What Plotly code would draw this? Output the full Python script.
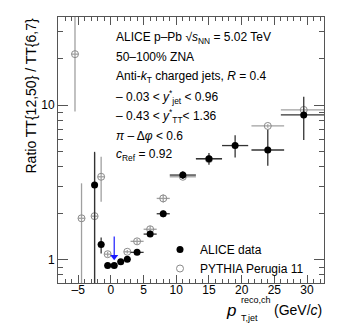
import numpy as np
import plotly.graph_objects as go

# ALICE data (filled markers)
alice_x = [-2.5, -1.5, -0.5, 0.5, 1.5, 2.5, 4, 6, 8, 11, 15, 19, 24, 29.5]
alice_y = [3.05, 1.26, 0.92, 0.92, 0.975, 1.01, 1.12, 1.47, 1.99, 3.54, 4.52, 5.49, 5.14, 8.66]
alice_xerr = [0.5, 0.5, 0.5, 0.5, 0.5, 0.5, 1, 1, 1, 2, 2, 2, 2.5, 3.5]
alice_yerr_up = [1.95, 0.14, 0.02, 0.02, 0.02, 0.03, 0.03, 0.06, 0.1, 0.2, 0.4, 0.9, 1.8, 2.7]
alice_yerr_dn = [2.5, 0.16, 0.02, 0.02, 0.02, 0.03, 0.03, 0.06, 0.1, 0.2, 0.4, 0.9, 1.07, 2.7]

# PYTHIA Perugia 11 (open markers)
pythia_x = [-5.5, -4.5, -2.5, -1.5, -0.5, 2.5, 4, 6, 8, 11, 15, 24, 29.5]
pythia_y = [21.4, 1.86, 1.92, 3.45, 1.09, 1.13, 1.32, 1.58, 2.50, 3.45, 4.48, 7.35, 9.33]
pythia_xerr = [0.5, 0.5, 0.5, 0.5, 0.5, 0.5, 1, 1, 1, 2, 2, 2.5, 3.5]
pythia_yerr_up = [30, 1.27, 3.0, 1.2, 0.04, 0.03, 0.05, 0.08, 0.15, 0.1, 0.15, 0.2, 0.3]
pythia_yerr_dn = [12.3, 1.5, 1.5, 1.07, 0.04, 0.03, 0.05, 0.08, 0.15, 0.1, 0.15, 0.2, 0.3]

# upper-limit arrow
limit_x = [0.5, 0.5]
limit_y = [1.42, 1.05]

x_range = [-8.1, 32.6]
y_range = [0.71, 37.2]
y_major = [1, 10]
y_minor = [0.8, 0.9, 2, 3, 4, 5, 6, 7, 8, 9, 20, 30]

info_lines = [
    "ALICE p–Pb √<i>s</i><sub>NN</sub> = 5.02 TeV",
    "50–100% ZNA",
    "Anti-<i>k</i><sub>T</sub> charged jets, <i>R</i> = 0.4",
    "– 0.03 < <i>y</i><sup>*</sup><sub>jet</sub> < 0.96",
    "– 0.43 < <i>y</i><sup>*</sup><sub>TT</sub>< 1.36",
    "<i>π</i> – Δ<i>φ</i> < 0.6",
    "<i>c</i><sub>Ref</sub> = 0.92",
]

FONT = "Liberation Sans, Arial, sans-serif"
W, H = 341, 326
L, R, T, B = 58, 17, 17, 43
pw, ph = W - L - R, H - T - B

fig = go.Figure()

fig.add_trace(
    go.Scatter(
        x=pythia_x,
        y=pythia_y,
        mode="markers",
        name="PYTHIA Perugia 11",
        marker=dict(symbol="circle-open", size=7, color="#8a8a8a", line=dict(width=1)),
        error_x=dict(type="data", array=pythia_xerr, width=0, color="#a0a0a0", thickness=1.3),
        error_y=dict(
            type="data", symmetric=False, array=pythia_yerr_up, arrayminus=pythia_yerr_dn,
            width=0, color="#a0a0a0", thickness=1.3,
        ),
    )
)
fig.add_trace(
    go.Scatter(
        x=alice_x,
        y=alice_y,
        mode="markers",
        name="ALICE data",
        marker=dict(symbol="circle", size=7, color="black"),
        error_x=dict(type="data", array=alice_xerr, width=0, color="#333333", thickness=1.3),
        error_y=dict(
            type="data", symmetric=False, array=alice_yerr_up, arrayminus=alice_yerr_dn,
            width=0, color="#333333", thickness=1.3,
        ),
    )
)
# arrow shaft and head
fig.add_trace(
    go.Scatter(
        x=limit_x, y=limit_y, mode="lines", showlegend=False,
        line=dict(color="#1a1aff", width=1.2),
    )
)
fig.add_trace(
    go.Scatter(
        x=limit_x[1:], y=limit_y[1:], mode="markers", showlegend=False,
        marker=dict(symbol="triangle-down", size=7, color="#1a1aff"),
    )
)

# text block
for i, line in enumerate(info_lines):
    ypix = 38 + i * 19.5
    fig.add_annotation(
        x=(114 - L) / pw, y=1 - (ypix - T) / ph, xref="paper", yref="paper",
        text=line, showarrow=False, xanchor="left", yanchor="middle",
        font=dict(family=FONT, size=12, color="black"),
    )

# y axis title (ROOT style, top aligned)
fig.add_annotation(
    x=(30 - L) / pw, y=1, xref="paper", yref="paper",
    text="Ratio TT{12,50} / TT{6,7}", textangle=-90, showarrow=False,
    xanchor="center", yanchor="top", font=dict(family=FONT, size=14, color="black"),
)

# x axis title (right aligned)
xt_y = 1 - (310 - T) / ph
fig.add_annotation(
    x=1, y=xt_y, xref="paper", yref="paper", text="(GeV/<i>c</i>)", showarrow=False,
    xanchor="right", yanchor="middle", font=dict(family=FONT, size=14, color="black"),
)
fig.add_annotation(
    x=(238 - L) / pw, y=xt_y, xref="paper", yref="paper", text="<i>p</i>", showarrow=False,
    xanchor="right", yanchor="middle", font=dict(family=FONT, size=17, color="black"),
)
fig.add_annotation(
    x=(239 - L) / pw, y=1 - (300 - T) / ph, xref="paper", yref="paper", text="reco,ch",
    showarrow=False, xanchor="left", yanchor="middle", font=dict(family=FONT, size=9, color="black"),
)
fig.add_annotation(
    x=(239 - L) / pw, y=1 - (318 - T) / ph, xref="paper", yref="paper", text="T,jet",
    showarrow=False, xanchor="left", yanchor="middle", font=dict(family=FONT, size=9, color="black"),
)

fig.update_layout(
    width=W,
    height=H,
    margin=dict(l=L, r=R, t=T, b=B, pad=0),
    paper_bgcolor="white",
    plot_bgcolor="white",
    font=dict(family=FONT, size=12, color="black"),
    showlegend=True,
    legend=dict(
        x=(160 - L) / pw, y=1 - (235 - T) / ph, xanchor="left", yanchor="top",
        traceorder="reversed", bgcolor="rgba(0,0,0,0)", itemwidth=30,
        font=dict(family=FONT, size=12), tracegroupgap=0,
    ),
    xaxis=dict(
        range=x_range, showgrid=False, zeroline=False,
        showline=True, linecolor="#555555", linewidth=1, mirror="allticks",
        ticks="inside", ticklen=8, tickcolor="#555555", tickvals=[-5, 0, 5, 10, 15, 20, 25, 30],
        ticktext=["–5", "0", "5", "10", "15", "20", "25", "30"],
        minor=dict(ticks="inside", ticklen=4, dtick=1, tick0=0, tickcolor="#555555"),
        tickfont=dict(size=12), ticklabelstandoff=-4,
    ),
    yaxis=dict(
        type="log", range=list(np.log10(y_range)), showgrid=False, zeroline=False,
        showline=True, linecolor="#555555", linewidth=1, mirror="allticks",
        ticks="inside", ticklen=10, tickcolor="#555555", tickvals=y_major,
        minor=dict(ticks="inside", ticklen=5, tickmode="array", tickvals=y_minor, tickcolor="#555555"),
        tickfont=dict(size=12),
    ),
)

fig.write_html(
    "out.html",
    config={"displayModeBar": False},
    post_script="document.body.style.margin='0';",
)
